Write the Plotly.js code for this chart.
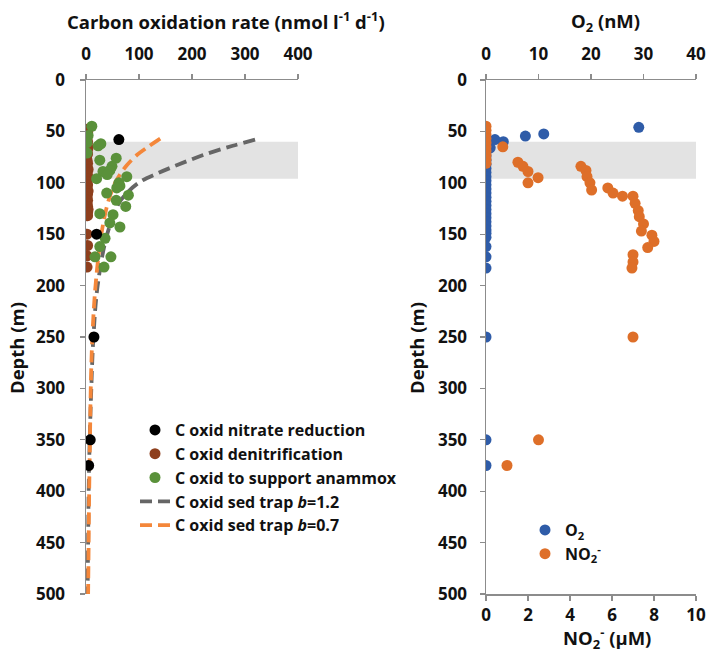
<!DOCTYPE html>
<html>
<head>
<meta charset="utf-8">
<script src="https://cdn.plot.ly/plotly-3.0.1.min.js"></script>
<style>html,body{margin:0;padding:0;background:#fff;}#chart{width:709px;height:659px;}</style>
</head>
<body>
<div id="chart"></div>
<script>
// ---- Left panel: carbon oxidation rate (nmol l-1 d-1) vs depth (m)
const nitrateRate  = [62, 20, 15, 8, 5];
const nitrateDepth = [58, 150, 250, 350, 375];

const denitRate  = [2,3,2,1,3,2,4,2,3,1,2,3,2,4,2,3,1,2,3,2,4,3,2,3,2,3,4,3,3,2,3,2,2];
const denitDepth = [48,51,54,57,60,63,66,69,72,75,78,81,84,87,90,93,96,99,102,105,108,111,114,117,120,123,126,129,132,150,161,171,182];

const anammoxRate  = [11,4,2,23,28,2,26,57,49,32,45,40,77,20,62,64,58,39,80,57,75,26,51,45,64,36,26,17,47,34];
const anammoxDepth = [45,54,61,64,62,71,78,76,84,89,88,92,94,96,100,103,105,110,112,117,123,130,131,139,143,154,162,172,172,182];

const trap12Rate  = [319,277,221,171,134,102,77,62,40,22,14,10,7,5,4,3];
const trap12Depth = [58,64,73,83,91,99,110,120,150,200,250,300,350,400,450,500];

const trap07Rate  = [140,117,96,77,64,55,41,29,18,12,9,7.5,6,5,4];
const trap07Depth = [57,65,73,83,92,100,120,150,200,250,300,350,400,450,500];

// ---- Right panel: O2 (nM, top axis) and NO2- (uM, bottom axis) vs depth (m)
const o2Conc  = [29.1,11.0,7.5,3.3,1.7,0.8,0,0,0,0,0,0,0,0,0,0,0,0,0,0,0,0,0,0,0,0,0,0,0,0,0,0,0,0,0,0,0];
const o2Depth = [46,52.5,54.5,60,58,66,58,62,66,70,74,78,82,86,90,94,98,102,106,110,114,118,122,126,130,134,138,142,146,149,153,162,172,183,250,350,375];

const no2Conc  = [0,0,0,0,0,0,0,0,0,0,0.8,1.52,1.76,2.0,2.48,2.0,4.52,4.76,4.81,4.95,5.03,5.8,6.05,6.5,7.0,7.1,7.25,7.3,7.5,7.4,7.9,8.0,7.7,7.0,7.0,6.95,7.0,2.5,1.0];
const no2Depth = [45,49,53,57,61,65,69,73,77,81,65,80,84,89,95,100,84,88,94,100,107,105,110,113,113,120,127,133,140,147,151,157,163,170,177,183,250,350,375];

const bandTop = 60, bandBottom = 96;

// ---- Text
const titleLeft  = 'Carbon oxidation rate (nmol l<sup>-1</sup> d<sup>-1</sup>)';
const titleO2    = 'O<sub>2</sub> (nM)';
const titleNO2   = 'NO<sub>2</sub><sup>-</sup> (μM)';
const titleDepth = 'Depth (m)';

const FONT = "'Open Sans', 'Liberation Sans', sans-serif";
const axisLine = '#8c8c8c';
const mk = (c) => ({color: c, size: 11});

const traces = [
  {x: trap12Rate, y: trap12Depth, xaxis: 'x', yaxis: 'y', mode: 'lines', name: 'C oxid sed trap <i>b</i>=1.2',
   line: {color: '#666666', width: 3.8, dash: '12px,6px', shape: 'spline'}, legend: 'legend', legendrank: 4},
  {x: trap07Rate, y: trap07Depth, xaxis: 'x', yaxis: 'y', mode: 'lines', name: 'C oxid sed trap <i>b</i>=0.7',
   line: {color: '#F4873A', width: 3.8, dash: '12px,6px', shape: 'spline'}, legend: 'legend', legendrank: 5},
  {x: denitRate, y: denitDepth, xaxis: 'x', yaxis: 'y', mode: 'markers', name: 'C oxid denitrification',
   marker: mk('#8E3F1D'), legend: 'legend', legendrank: 2},
  {x: anammoxRate, y: anammoxDepth, xaxis: 'x', yaxis: 'y', mode: 'markers', name: 'C oxid to support anammox',
   marker: mk('#5A913A'), legend: 'legend', legendrank: 3},
  {x: nitrateRate, y: nitrateDepth, xaxis: 'x', yaxis: 'y', mode: 'markers', name: 'C oxid nitrate reduction',
   marker: mk('#000000'), legend: 'legend', legendrank: 1},
  {x: o2Conc, y: o2Depth, xaxis: 'x2', yaxis: 'y2', mode: 'markers', name: 'O<sub>2</sub>',
   marker: mk('#2F5CA8'), legend: 'legend2', legendrank: 1},
  {x: no2Conc, y: no2Depth, xaxis: 'x3', yaxis: 'y2', mode: 'markers', name: 'NO<sub>2</sub><sup>-</sup>',
   marker: mk('#DE6F29'), legend: 'legend2', legendrank: 2}
];

const W = 709, H = 659;
const px = (a) => a / W;
const py = (b) => 1 - b / H;
const yDom = [py(594), py(80)];

const commonAx = {
  showgrid: false, zeroline: false, showline: true, linecolor: axisLine, linewidth: 1.5,
  ticks: 'outside', ticklen: 5, tickcolor: axisLine, tickwidth: 1.2, fixedrange: true,
  tickfont: {size: 17}
};

const ann = (text, x, y, angle) => ({
  text: text, xref: 'paper', yref: 'paper', x: px(x), y: py(y), xanchor: 'center', yanchor: 'middle',
  showarrow: false, textangle: angle || 0, font: {size: 18.5}
});

const layout = {
  width: W, height: H,
  margin: {l: 0, r: 0, t: 0, b: 0},
  paper_bgcolor: '#ffffff', plot_bgcolor: 'rgba(0,0,0,0)',
  font: {family: FONT, size: 16, color: '#111111', weight: 700},
  xaxis: Object.assign({}, commonAx, {
    domain: [px(86), px(298)], anchor: 'y', side: 'top', range: [0, 400], dtick: 100, ticklabelstandoff: 7
  }),
  yaxis: Object.assign({}, commonAx, {
    domain: yDom, anchor: 'x', range: [500, 0], dtick: 50, ticklabelstandoff: 11
  }),
  xaxis2: Object.assign({}, commonAx, {
    domain: [px(486), px(696)], anchor: 'y2', side: 'top', range: [0, 40], dtick: 10, ticklabelstandoff: 7
  }),
  xaxis3: Object.assign({}, commonAx, {
    overlaying: 'x2', anchor: 'y2', side: 'bottom', range: [0, 10], dtick: 2
  }),
  yaxis2: Object.assign({}, commonAx, {
    domain: yDom, anchor: 'x2', range: [500, 0], dtick: 50, ticklabelstandoff: 9
  }),
  annotations: [
    ann(titleLeft, 226, 21),
    ann(titleO2, 605, 22),
    ann(titleNO2, 607, 638),
    ann(titleDepth, 16, 348, -90),
    ann(titleDepth, 416, 348, -90)
  ],
  shapes: [
    {type: 'rect', xref: 'x', yref: 'y', x0: 0, x1: 400, y0: bandTop, y1: bandBottom,
     fillcolor: '#E3E3E3', line: {width: 0}, layer: 'below'},
    {type: 'rect', xref: 'x2', yref: 'y2', x0: 0, x1: 40, y0: bandTop, y1: bandBottom,
     fillcolor: '#E3E3E3', line: {width: 0}, layer: 'below'}
  ],
  legend: {x: px(135), y: py(413), xanchor: 'left', yanchor: 'top', bgcolor: 'rgba(0,0,0,0)',
           font: {size: 16}, tracegroupgap: 0},
  legend2: {x: px(525), y: py(513), xanchor: 'left', yanchor: 'top', bgcolor: 'rgba(0,0,0,0)',
            font: {size: 16}, tracegroupgap: 0},
  showlegend: true
};

Plotly.newPlot('chart', traces, layout, {displayModeBar: false, staticPlot: true});
</script>
</body>
</html>
